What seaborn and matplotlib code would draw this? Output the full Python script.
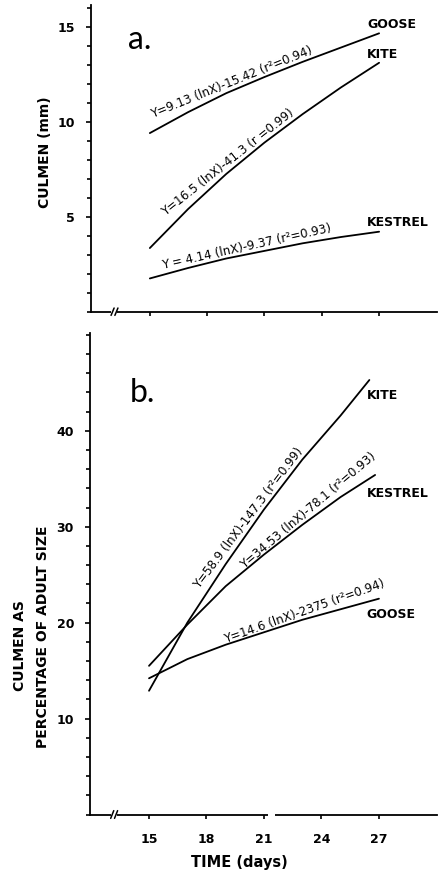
import numpy as np
import pandas as pd
import seaborn as sns
import matplotlib
matplotlib.use("Agg")
import matplotlib.pyplot as plt
from matplotlib.ticker import MultipleLocator, FixedLocator
from matplotlib.transforms import offset_copy

# ---------------- data ----------------
days = [15, 17, 19, 21, 23, 25, 27]

# panel a: culmen (mm)
goose_mm = [9.4, 10.5, 11.5, 12.35, 13.15, 13.9, 14.65]
kite_mm = [3.35, 5.4, 7.25, 8.9, 10.4, 11.8, 13.1]
kestrel_mm = [1.75, 2.3, 2.8, 3.2, 3.6, 3.93, 4.21]

# panel b: culmen as percentage of adult size
kite_pct_days = [15, 17, 19, 21, 23, 25, 26.5]
kite_pct = [12.9, 20.0, 26.1, 31.8, 37.0, 41.6, 45.3]
kestrel_pct_days = [15, 17, 19, 21, 23, 25, 26.8]
kestrel_pct = [15.5, 19.8, 23.8, 27.1, 30.2, 33.1, 35.4]
goose_pct = [14.2, 16.2, 17.7, 19.0, 20.3, 21.4, 22.5]

x_ticks = [15, 18, 21, 24, 27]
x_ticklabels = ["15", "18", "21", "24", "27"]
a_yticks = [5, 10, 15]
b_yticks = [10, 20, 30, 40]

eq_a = {
    "goose": "Y=9.13 (lnX)-15.42 (r\u00b2=0.94)",
    "kite": "Y=16.5 (lnX)-41.3 (r =0.99)",
    "kestrel": "Y = 4.14 (lnX)-9.37 (r\u00b2=0.93)",
}
eq_b = {
    "kite": "Y=58.9 (lnX)-147.3 (r\u00b2=0.99)",
    "kestrel": "Y=34.53 (lnX)-78.1 (r\u00b2=0.93)",
    "goose": "Y=14.6 (lnX)-2375 (r\u00b2=0.94)",
}

# ---------------- style ----------------
sns.set_style("ticks")
plt.rcParams["font.family"] = ["DejaVu Sans"]
plt.rcParams.update({
    "axes.linewidth": 1.3,
    "text.color": "black",
    "axes.labelcolor": "black",
    "axes.edgecolor": "black",
    "xtick.color": "black",
    "ytick.color": "black",
})

fig = plt.figure(figsize=(4.44, 8.74), dpi=100)
W, H = 444.0, 874.0
ax1 = fig.add_axes([91 / W, 1 - 311.7 / H, 346 / W, (311.7 - 5) / H])
ax2 = fig.add_axes([90 / W, 1 - 814.5 / H, 347 / W, (814.5 - 333) / H])

lw = 1.3
sns.lineplot(x=days, y=goose_mm, ax=ax1, color="black", lw=lw)
sns.lineplot(x=days, y=kite_mm, ax=ax1, color="black", lw=lw)
sns.lineplot(x=days, y=kestrel_mm, ax=ax1, color="black", lw=lw)

sns.lineplot(x=kite_pct_days, y=kite_pct, ax=ax2, color="black", lw=lw)
sns.lineplot(x=kestrel_pct_days, y=kestrel_pct, ax=ax2, color="black", lw=lw)
sns.lineplot(x=days, y=goose_pct, ax=ax2, color="black", lw=lw)

tick_fs = 9
for ax in (ax1, ax2):
    sns.despine(ax=ax)
    ax.set_xlim(11.92, 30.03)
    ax.set_xticks(x_ticks)
    ax.tick_params(axis="both", which="both", direction="out", width=1.2,
                   labelsize=tick_fs, colors="black")
    ax.tick_params(axis="y", which="major", length=3.5, pad=8)
    ax.tick_params(axis="y", which="minor", length=3)
    ax.tick_params(axis="x", which="major", length=3, pad=10)
    ax.set_xlabel("")
    ax.set_ylabel("")

ax1.set_ylim(0, 16.14)
ax1.yaxis.set_major_locator(FixedLocator(a_yticks))
ax1.yaxis.set_minor_locator(MultipleLocator(1))
ax1.set_yticklabels([str(v) for v in a_yticks], fontweight="bold", fontsize=tick_fs)
ax1.set_xticklabels([])

ax2.set_ylim(0, 50.2)
ax2.yaxis.set_major_locator(FixedLocator(b_yticks))
ax2.yaxis.set_minor_locator(MultipleLocator(2))
ax2.set_yticklabels([str(v) for v in b_yticks], fontweight="bold", fontsize=tick_fs)
ax2.set_xticklabels(x_ticklabels, fontweight="bold", fontsize=tick_fs)

# axis breaks
def axis_break(ax, x0, x1, slashes, hfrac):
    tr = ax.get_xaxis_transform()
    ax.plot([x0, x1], [0, 0], transform=tr, color="white", lw=3,
            clip_on=False, zorder=5, solid_capstyle="butt")
    for xs in slashes:
        ax.plot([xs - 0.08, xs + 0.08], [-hfrac, hfrac], transform=tr,
                color="black", lw=1.1, clip_on=False, zorder=6)

axis_break(ax1, 12.95, 13.3, [13.05, 13.25], 0.012)
axis_break(ax2, 12.99, 13.35, [13.08, 13.28], 0.008)
tr2 = ax2.get_xaxis_transform()
ax2.plot([21.2, 21.55], [0, 0], transform=tr2, color="white", lw=3,
         clip_on=False, zorder=5, solid_capstyle="butt")

# equations: sit just above their curve
eq_fs = 8.6
def eq_text(ax, xc, xs, ys, text, rot):
    yc = float(np.interp(xc, xs, ys))
    tr = offset_copy(ax.transData, fig=fig, x=-1.0 * np.sin(np.radians(rot)),
                     y=1.0 * np.cos(np.radians(rot)), units="points")
    ax.text(xc, yc, text, rotation=rot, ha="center", va="bottom",
            rotation_mode="anchor", fontsize=eq_fs, transform=tr)

eq_text(ax1, 19.43, days, goose_mm, eq_a["goose"], 22)
eq_text(ax1, 19.33, days, kite_mm, eq_a["kite"], 38.3)
eq_text(ax1, 20.16, days, kestrel_mm, eq_a["kestrel"], 12.5)

eq_text(ax2, 20.5, kite_pct_days, kite_pct, eq_b["kite"], 53)
eq_text(ax2, 23.6, kestrel_pct_days, kestrel_pct, eq_b["kestrel"], 40.2)
eq_text(ax2, 23.25, days, goose_pct, eq_b["goose"], 19.5)

# species labels
sp_fs = 9
ax1.text(26.37, 15.09, "GOOSE", ha="left", va="center", fontsize=sp_fs, fontweight="bold")
ax1.text(26.37, 13.51, "KITE", ha="left", va="center", fontsize=sp_fs, fontweight="bold")
ax1.text(26.37, 4.72, "KESTREL", ha="left", va="center", fontsize=sp_fs, fontweight="bold")
ax2.text(26.37, 43.7, "KITE", ha="left", va="center", fontsize=sp_fs, fontweight="bold")
ax2.text(26.37, 33.5, "KESTREL", ha="left", va="center", fontsize=sp_fs, fontweight="bold")
ax2.text(26.37, 20.8, "GOOSE", ha="left", va="center", fontsize=sp_fs, fontweight="bold")

# panel letters
ax1.text(13.85, 13.83, "a.", ha="left", va="baseline", fontsize=23,
         family=["Lato", "DejaVu Sans"], fontweight="normal", color="black")
ax2.text(14.0, 43.0, "b.", ha="left", va="baseline", fontsize=23,
         family=["Lato", "DejaVu Sans"], fontweight="normal", color="black")

# axis labels
lab_fs = 10
fig.text(45 / W, 1 - 152 / H, "CULMEN (mm)", rotation=90, ha="center", va="center",
         fontsize=lab_fs, fontweight="bold")
fig.text(20 / W, 1 - 646 / H, "CULMEN AS", rotation=90, ha="center", va="center",
         fontsize=lab_fs, fontweight="bold")
fig.text(43 / W, 1 - 637 / H, "PERCENTAGE OF ADULT SIZE", rotation=90, ha="center",
         va="center", fontsize=lab_fs, fontweight="bold")
fig.text(239 / W, 1 - 863 / H, "TIME (days)", ha="center", va="center",
         fontsize=10.5, fontweight="bold")

fig.savefig("out.png", dpi=100)
